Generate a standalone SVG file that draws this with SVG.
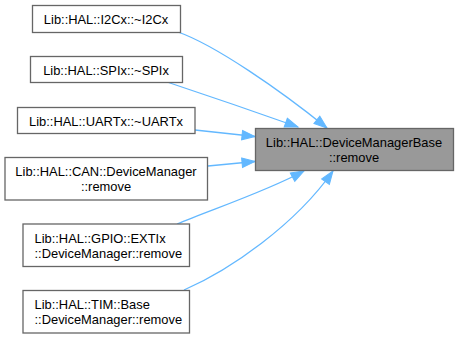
<svg xmlns="http://www.w3.org/2000/svg" width="458" height="339" viewBox="0 0 458 339">
  <style>
    .box { fill: #ffffff; stroke: #666666; stroke-width: 1.3; }
    .hl { fill: #999999; stroke: #666666; stroke-width: 1.3; }
    text { font-family: "Liberation Sans", Arial, Helvetica, sans-serif; font-size: 12.9px; fill: #000000; }
    .c { text-anchor: middle; }
    .edge { fill: none; stroke: #63b8ff; stroke-width: 1.3; marker-end: url(#arrow); }
  </style>
  <defs>
    <marker id="arrow" markerUnits="userSpaceOnUse" markerWidth="16" markerHeight="12" viewBox="0 -6 14 12" refX="13" refY="0" orient="auto">
      <path d="M0,-4.7 L13,0 L0,4.7 Z" fill="#63b8ff" stroke="#63b8ff" stroke-width="1"/>
    </marker>
  </defs>
  <rect width="458" height="339" fill="#ffffff"/>

  <g id="connectors">
    <path class="edge" d="M178,32 C215,45 280,90 327,128"/>
    <path class="edge" d="M167,82 C200,93 250,110 298,127"/>
    <path class="edge" d="M195,130 L255,136.5"/>
    <path class="edge" d="M208,166 L255,161.5"/>
    <path class="edge" d="M177,224 C210,210 265,192 304,171"/>
    <path class="edge" d="M184,290 C230,270 295,225 333,171"/>
  </g>

  <g id="node-target">
    <rect class="hl" x="255.5" y="128.5" width="198" height="42"/>
    <text class="c" x="354" y="147">Lib::HAL::DeviceManagerBase</text>
    <text class="c" x="354" y="162">::remove</text>
  </g>

  <g id="node-i2c">
    <rect class="box" x="32.5" y="5.5" width="148" height="27"/>
    <text class="c" x="106" y="24">Lib::HAL::I2Cx::~I2Cx</text>
  </g>

  <g id="node-spi">
    <rect class="box" x="30.5" y="56.5" width="152" height="26"/>
    <text class="c" x="106" y="75">Lib::HAL::SPIx::~SPIx</text>
  </g>

  <g id="node-uart">
    <rect class="box" x="17.5" y="107.5" width="177.5" height="26"/>
    <text class="c" x="106" y="125.5">Lib::HAL::UARTx::~UARTx</text>
  </g>

  <g id="node-can">
    <rect class="box" x="5" y="157.5" width="202.5" height="42.5"/>
    <text class="c" x="106" y="176">Lib::HAL::CAN::DeviceManager</text>
    <text class="c" x="106" y="191">::remove</text>
  </g>

  <g id="node-gpio">
    <rect class="box" x="23" y="224" width="166.5" height="42.5"/>
    <text x="34.5" y="242.5">Lib::HAL::GPIO::EXTIx</text>
    <text x="34.5" y="257.5">::DeviceManager::remove</text>
  </g>

  <g id="node-tim">
    <rect class="box" x="23" y="290.5" width="166.5" height="42.5"/>
    <text x="34.5" y="309">Lib::HAL::TIM::Base</text>
    <text x="34.5" y="324">::DeviceManager::remove</text>
  </g>
</svg>
